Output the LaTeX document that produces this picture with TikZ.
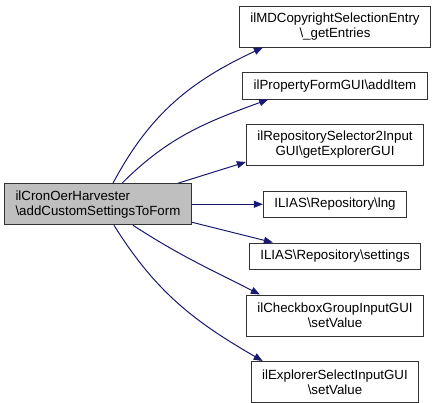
\documentclass[tikz,border=0pt]{standalone}
\usepackage{fontspec}
\setmainfont{Liberation Sans}
\usepackage{tikz}
\usetikzlibrary{arrows.meta, positioning, calc}
\definecolor{edgecolor}{RGB}{25,25,112}
\definecolor{rootgray}{RGB}{191,191,191}

\begin{document}
\begin{tikzpicture}[
    box/.style={rectangle, draw=black!80, line width=1bp, fill=white, inner xsep=11bp, inner ysep=2bp,
                minimum height=26.5bp, align=center, font=\fontsize{13.3bp}{15bp}\selectfont},
    twoline/.style={box, minimum height=41bp},
    root/.style={twoline, fill=rootgray, align=left},
    arrow/.style={-{Triangle[length=9bp, width=7bp]}, line width=1bp, color=edgecolor}
]
    \useasboundingbox (0,0) rectangle (436bp,-403bp);

    \node[twoline, anchor=north] (entries) at (335bp,-5.5bp) {ilMDCopyrightSelectionEntry\\\textbackslash\_getEntries};
    \node[box, below=24.5bp of entries] (additem) {ilPropertyFormGUI\textbackslash addItem};
    \node[twoline, below=24.5bp of additem] (explorer) {ilRepositorySelector2Input\\GUI\textbackslash getExplorerGUI};
    \node[box, below=24.5bp of explorer] (lng) {ILIAS\textbackslash Repository\textbackslash lng};
    \node[box, below=24.5bp of lng] (settings) {ILIAS\textbackslash Repository\textbackslash settings};
    \node[twoline, below=24.5bp of settings] (checkbox) {ilCheckboxGroupInputGUI\\\textbackslash setValue};
    \node[twoline, below=24.5bp of checkbox] (selectinput) {ilExplorerSelectInputGUI\\\textbackslash setValue};
    \node[root, left=71bp of lng] (harvester) {ilCronOerHarvester\\\textbackslash addCustomSettingsToForm};

    \draw[arrow] ([xshift=15bp]harvester.north) to[out=62, in=205] ([xshift=24bp]entries.south west);
    \draw[arrow] ([xshift=24bp]harvester.north) to[out=45, in=200] ([xshift=26bp]additem.south west);
    \draw[arrow] ([xshift=-14bp]harvester.north east) -- ([yshift=4bp]explorer.south west);
    \draw[arrow] (harvester.east) -- (lng.west);
    \draw[arrow] ([yshift=3bp]harvester.south east) -- ([xshift=24bp]settings.north west);
    \draw[arrow] ([xshift=35bp]harvester.south) to[out=-33, in=153] ([xshift=14bp]checkbox.north west);
    \draw[arrow] ([xshift=16bp]harvester.south) to[out=-58, in=150] ([xshift=12bp]selectinput.north west);
\end{tikzpicture}
\end{document}
